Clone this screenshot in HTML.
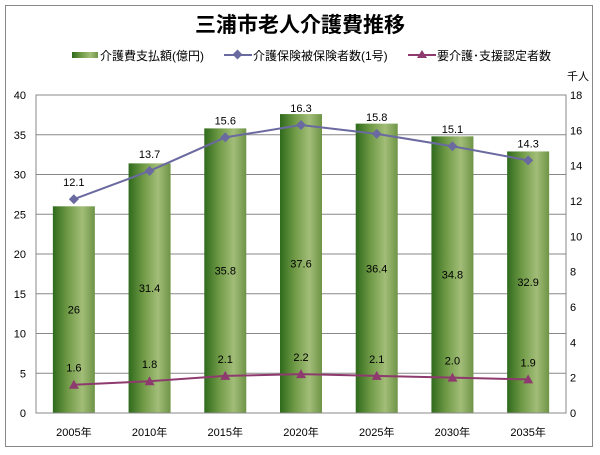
<!DOCTYPE html>
<html><head><meta charset="utf-8"><style>
body{margin:0;background:#fff;font-family:"Liberation Sans","Noto Sans CJK JP",sans-serif}
svg text{font-family:"Liberation Sans","Noto Sans CJK JP",sans-serif}
</style></head><body>
<svg id="c" width="600" height="450" xmlns="http://www.w3.org/2000/svg">
<defs><linearGradient id="g" x1="0" x2="1" y1="0" y2="0">
<stop offset="0" stop-color="#2f6a1c"/><stop offset="0.35" stop-color="#6f9a46"/><stop offset="0.7" stop-color="#a2bd78"/><stop offset="1" stop-color="#6e9446"/></linearGradient></defs>
<rect x="5.5" y="5.5" width="587" height="441" fill="#fff" stroke="#888"/>
<text x="300" y="32" text-anchor="middle" font-size="21" font-weight="bold">三浦市老人介護費推移</text>
<g font-size="12">
<rect x="72" y="52" width="26" height="6" fill="url(#g)"/>
<text x="100" y="60">介護費支払額(億円)</text>
<line x1="224" y1="55" x2="252" y2="55" stroke="#6a6aa0" stroke-width="2"/>
<rect x="234" y="51" width="7" height="7" fill="#6a6aa0" transform="rotate(45 237.5 54.5)"/>
<text x="253" y="60">介護保険被保険者数(1号)</text>
<line x1="408" y1="55" x2="436" y2="55" stroke="#8e3a6e" stroke-width="2"/>
<polygon points="422,50 427,58 417,58" fill="#8e3a6e"/>
<text x="437" y="60">要介護･支援認定者数</text>
</g>
<text x="567" y="80" font-size="11">千人</text>
<g id="grid"></g><g id="bars"></g><g id="lines"></g><g id="axes"></g>
</svg>
<script>
const categories=["2005年","2010年","2015年","2020年","2025年","2030年","2035年"];
const costs=[26,31.4,35.8,37.6,36.4,34.8,32.9];
const insured=[12.1,13.7,15.6,16.3,15.8,15.1,14.3];
const certified=[1.6,1.8,2.1,2.2,2.1,2.0,1.9];
const leftTicks=[0,5,10,15,20,25,30,35,40];
const rightTicks=[0,2,4,6,8,10,12,14,16,18];
const NS="http://www.w3.org/2000/svg";
const L=36,R=566,T=95,B=413;
const yl=v=>B-v/40*(B-T), yr=v=>B-v/18*(B-T);
const step=(R-L)/categories.length, xc=i=>L+step*(i+0.5);
function mk(p,t,a){const e=document.createElementNS(NS,t);for(const k in a)e.setAttribute(k,a[k]);document.getElementById(p).appendChild(e);return e;}
leftTicks.forEach(v=>{
 if(v>0&&v<40){const g=mk('grid','line',{x1:L,x2:R,y1:yl(v),y2:yl(v),stroke:'#888'});
 
 }
 const t=mk('axes','text',{x:L-10,y:yl(v)+4,'text-anchor':'end','font-size':11});t.textContent=v;
 
 
});
rightTicks.forEach(v=>{const t=mk('axes','text',{x:R+4,y:yr(v)+4,'font-size':11});t.textContent=v;
 
 });
const fr=mk('axes','rect',{x:L,y:T,width:R-L,height:B-T,fill:'none',stroke:'#888'});


categories.forEach((c,i)=>{
 const b=mk('bars','rect',{x:xc(i)-21,y:yl(costs[i]),width:42,height:B-yl(costs[i]),fill:'url(#g)'});
 
 
 const t=mk('bars','text',{x:xc(i),y:(yl(costs[i])+B)/2+4,'text-anchor':'middle','font-size':11});t.textContent=costs[i];
 
 
 const x=mk('axes','text',{x:xc(i),y:436,'text-anchor':'middle','font-size':11});x.textContent=c;
 
 
});
function series(arr,col,name,shape){
 const pl=mk('lines','polyline',{points:arr.map((v,i)=>xc(i)+','+yr(v)).join(' '),fill:'none',stroke:col,'stroke-width':2});
 
 
 arr.forEach((v,i)=>{let m;const x=xc(i),y=yr(v);
  if(shape==='d')m=mk('lines','polygon',{points:`${x},${y-5} ${x+5},${y} ${x},${y+5} ${x-5},${y}`,fill:col});
  else m=mk('lines','polygon',{points:`${x},${y-5} ${x+5},${y+4} ${x-5},${y+4}`,fill:col});
  
  
  const t=mk('lines','text',{x:x,y:y-13,'text-anchor':'middle','font-size':11});t.textContent=v.toFixed(1);
  
  });
}
series(insured,'#6a6aa0','insured','d');
series(certified,'#8e3a6e','certified','t');
</script>
</body></html>
